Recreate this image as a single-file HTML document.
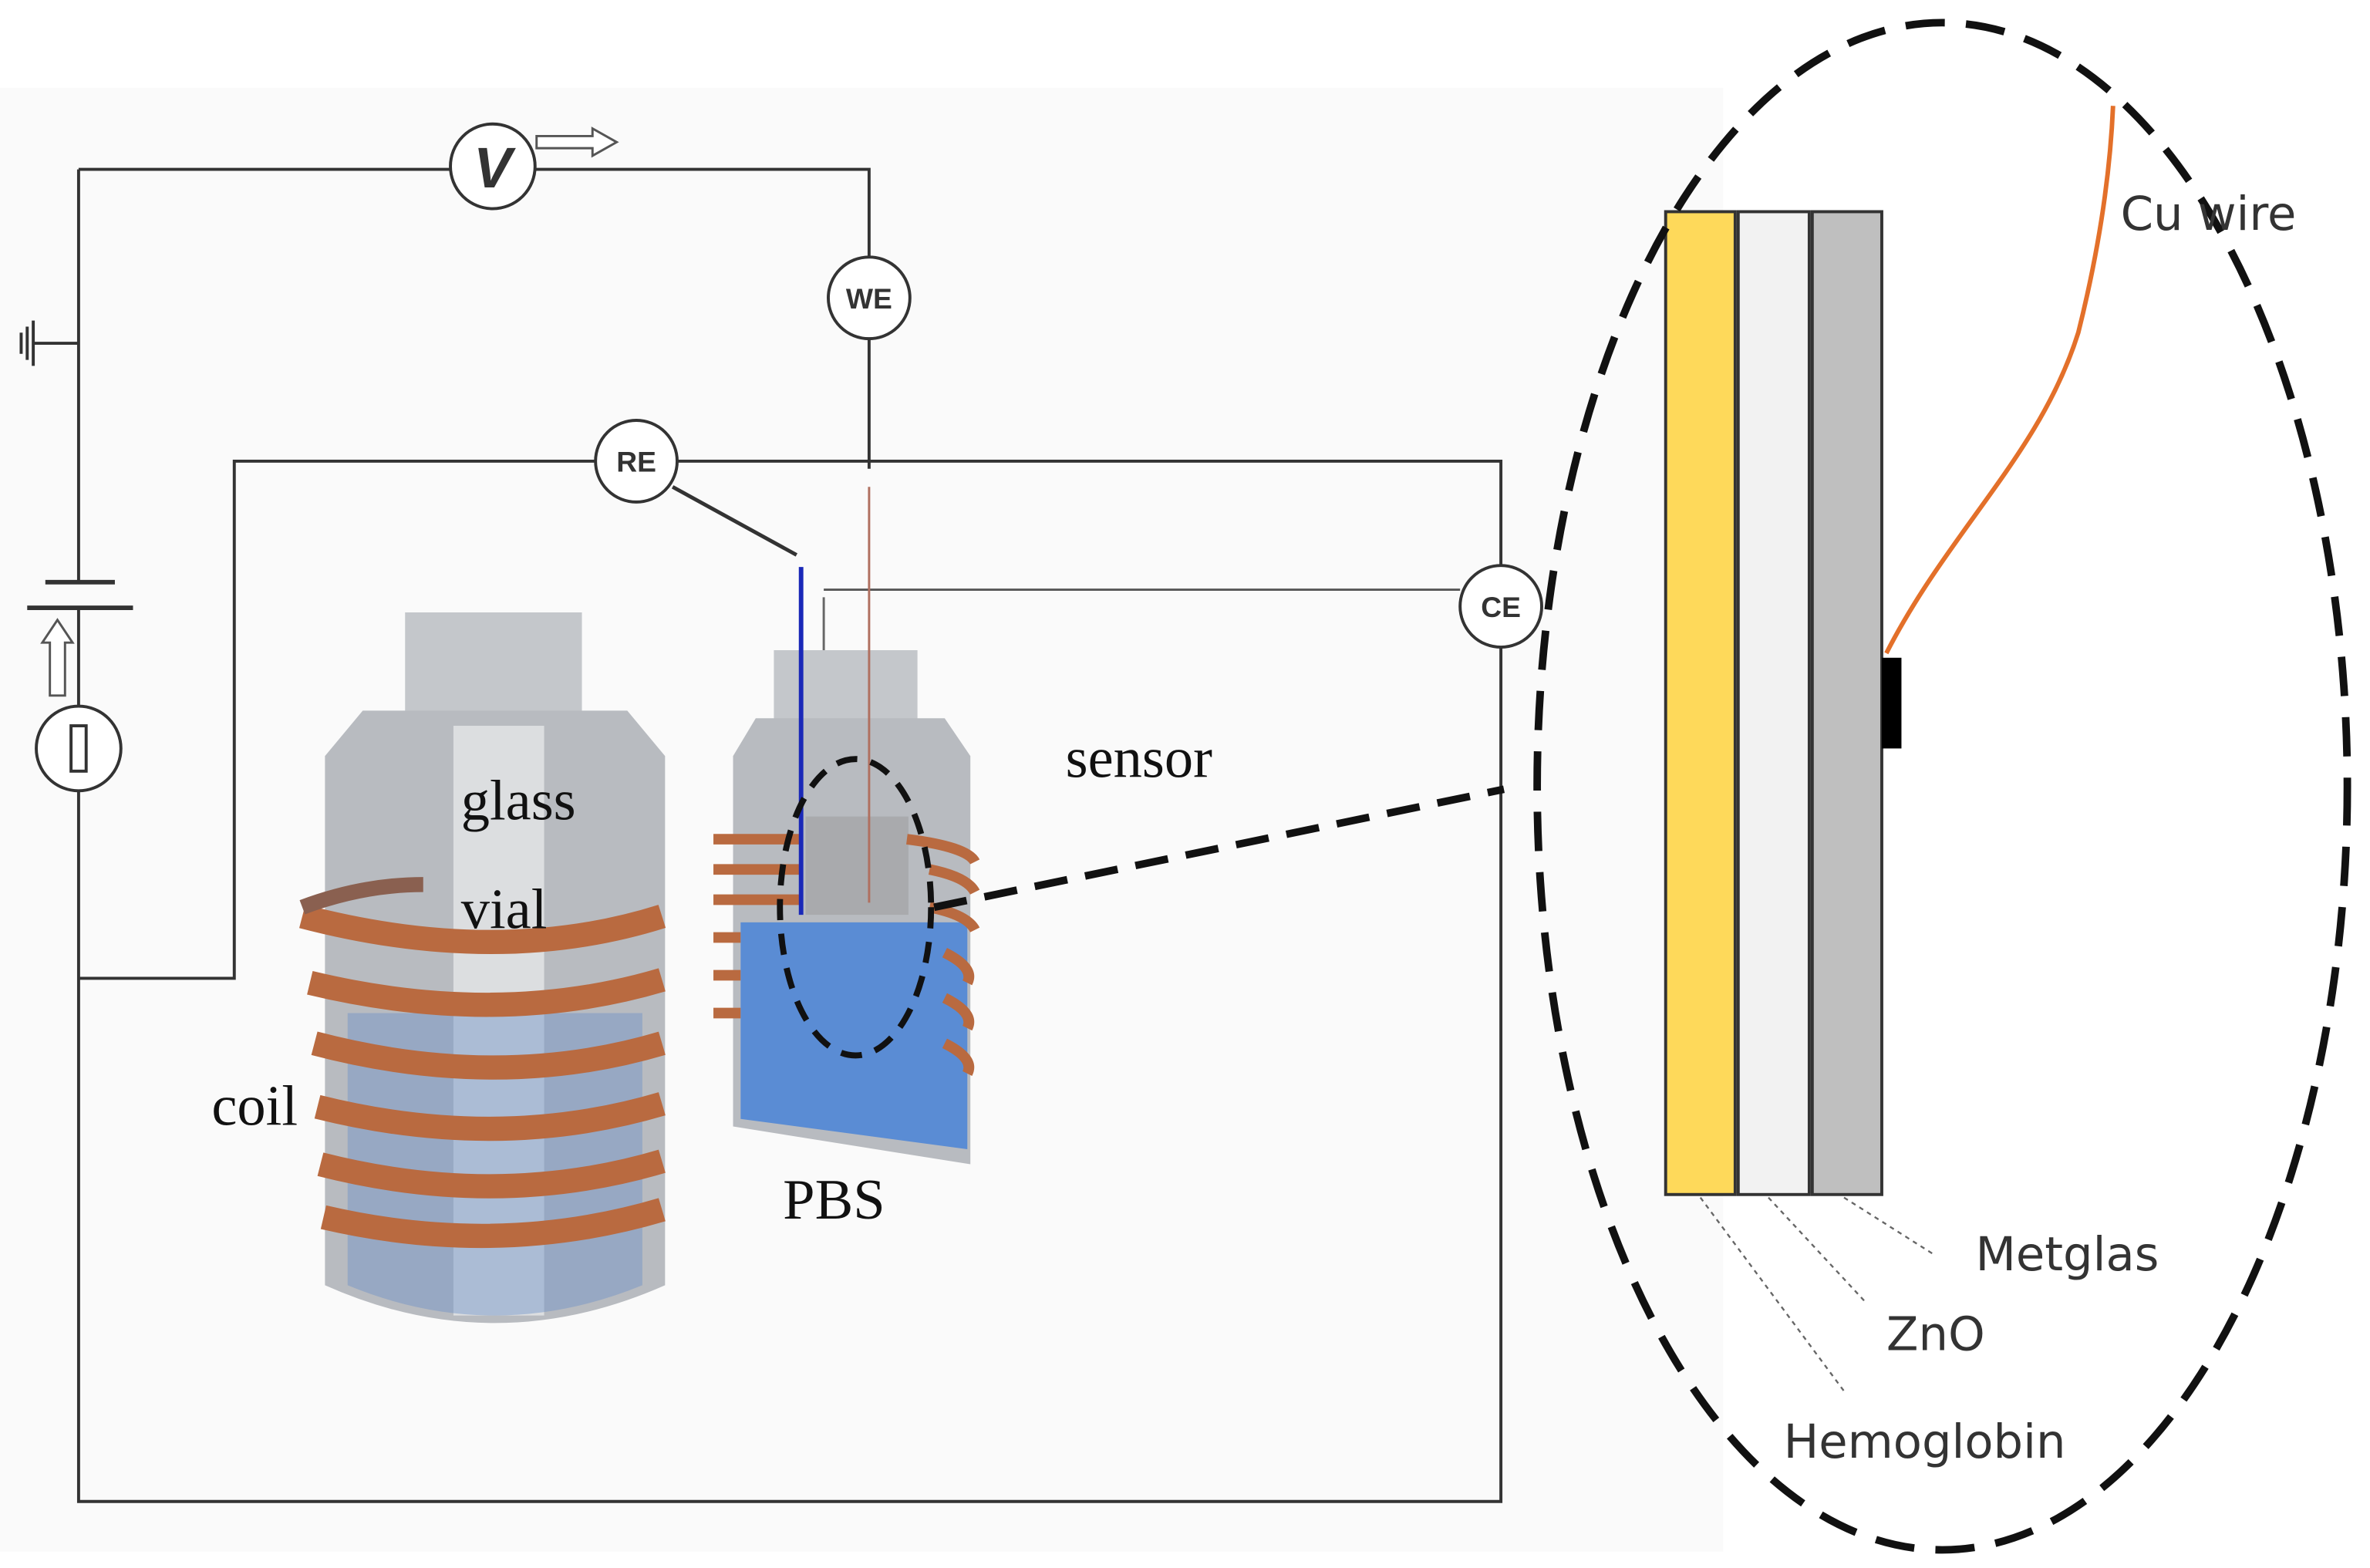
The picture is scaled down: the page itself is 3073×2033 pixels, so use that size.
<!DOCTYPE html>
<html><head><meta charset="utf-8"><style>html,body{margin:0;padding:0;background:#fff}svg{display:block}</style></head>
<body>
<svg width="3073" height="2033" viewBox="0 0 1568 1037" preserveAspectRatio="none" xmlns="http://www.w3.org/2000/svg">
<rect x="0" y="58" width="1140" height="968" fill="#fafafa"/>
<g stroke="#333" stroke-width="2" fill="none">
<polyline points="52,112 300,112"/><polyline points="354,112 575,112 575,170"/>
<line x1="575" y1="224" x2="575" y2="310"/>
<polyline points="52,112 52,385"/><polyline points="52,402 52,467"/><polyline points="52,523 52,993 993,993 993,428"/>
<line x1="22" y1="227" x2="52" y2="227"/>
<line x1="30" y1="385" x2="76" y2="385" stroke-width="3"/><line x1="18" y1="402" x2="88" y2="402" stroke-width="3"/>
<polyline points="52,647 155,647 155,305 394,305"/><polyline points="448,305 993,305 993,374"/>
<line x1="445" y1="322" x2="527" y2="367" stroke-width="2.5"/>
<line x1="545" y1="390" x2="966" y2="390" stroke="#555" stroke-width="1.5"/>
<line x1="545" y1="395" x2="545" y2="600" stroke="#666" stroke-width="1.5"/>
</g>
<g stroke="#333" stroke-width="2"><line x1="14" y1="220" x2="14" y2="234"/><line x1="18" y1="216" x2="18" y2="238"/><line x1="22" y1="212" x2="22" y2="242"/></g>
<path d="M33,460 V425 H28 L38,410 L48,425 H43 V460 Z" fill="#fff" stroke="#555" stroke-width="1.5"/>
<path d="M355,90 H392 V85 L408,94 L392,103 V98 H355 Z" fill="#fff" stroke="#555" stroke-width="1.5"/>
<g fill="#fff" stroke="#333" stroke-width="2">
<circle cx="326" cy="110" r="28"/><circle cx="575" cy="197" r="27"/><circle cx="421" cy="305" r="27"/><circle cx="993" cy="401" r="27"/><circle cx="52" cy="495" r="28"/>
</g>
<rect x="47" y="480" width="10" height="30" fill="none" stroke="#333" stroke-width="2"/>
<text x="326" y="124" font-family="Liberation Sans,sans-serif" font-size="38" font-style="italic" font-weight="bold" text-anchor="middle" fill="#333">V</text>
<g font-family="Liberation Sans,sans-serif" font-size="19" font-weight="bold" text-anchor="middle" fill="#333">
<text x="575" y="204">WE</text><text x="421" y="312">RE</text><text x="993" y="408">CE</text></g>
<!-- big vial -->
<rect x="268" y="405" width="117" height="70" fill="#c4c7cb"/>
<path d="M240,470 H415 L440,500 V850 Q327,900 215,850 V500 Z" fill="#b8bbc0"/>
<rect x="300" y="480" width="60" height="390" fill="#dcdee0"/>
<path d="M230,670 H425 V850 Q327,890 230,850 Z" fill="#6f93c8" opacity="0.45"/>
<g fill="none" stroke="#b96a40" stroke-width="16">
<path d="M200,606 Q330,640 438,606"/><path d="M205,650 Q330,680 438,648"/><path d="M208,690 Q330,722 438,690"/>
<path d="M210,732 Q330,762 438,730"/><path d="M212,770 Q330,800 438,768"/><path d="M214,805 Q330,832 438,800"/></g>
<path d="M200,600 Q240,585 280,585" fill="none" stroke="#8a6050" stroke-width="10"/>
<!-- small vial -->
<rect x="512" y="430" width="95" height="50" fill="#c4c7cb"/>
<path d="M500,475 H625 L642,500 V770 L485,745 V500 Z" fill="#b8bbc0"/>
<path d="M490,610 H640 V760 L490,740 Z" fill="#5a8cd4"/>
<rect x="533" y="540" width="68" height="65" fill="#999" opacity="0.5"/>
<g fill="none" stroke="#b96a40" stroke-width="7">
<path d="M472,555 L530,555 M600,555 Q640,560 645,570"/><path d="M472,575 H530 M615,575 Q640,580 645,590"/><path d="M472,595 H530 M615,600 Q640,605 645,615"/>
<path d="M472,620 H490"/><path d="M472,645 H490"/><path d="M472,670 H490"/>
<path d="M625,630 Q645,640 640,650"/><path d="M625,660 Q645,670 640,680"/><path d="M625,690 Q645,700 640,710"/></g>
<line x1="530" y1="375" x2="530" y2="605" stroke="#1a28b8" stroke-width="3"/>
<line x1="575" y1="322" x2="575" y2="597" stroke="#b07060" stroke-width="1.5"/>
<ellipse cx="566" cy="600" rx="50" ry="98" fill="none" stroke="#111" stroke-width="4" stroke-dasharray="14,9"/>
<line x1="618" y1="600" x2="995" y2="522" stroke="#111" stroke-width="5" stroke-dasharray="22,12"/>
<g font-family="Liberation Serif,serif" font-size="38" fill="#111">
<text x="305" y="542">glass</text><text x="305" y="614">vial</text><text x="140" y="744">coil</text><text x="518" y="806">PBS</text><text x="705" y="514">sensor</text></g>
<!-- zoom -->
<rect x="1102" y="140" width="46" height="650" fill="#fed95a" stroke="#333" stroke-width="2"/>
<rect x="1150" y="140" width="47" height="650" fill="#f2f2f2" stroke="#333" stroke-width="2"/>
<rect x="1199" y="140" width="46" height="650" fill="#bfbfbf" stroke="#333" stroke-width="2"/>
<rect x="1245" y="435" width="13" height="60" fill="#000"/>
<path d="M1248,432 C1290,350 1350,300 1375,220 Q1395,140 1398,70" fill="none" stroke="#e3702a" stroke-width="3"/>
<ellipse cx="1285" cy="520" rx="268" ry="505" fill="none" stroke="#111" stroke-width="5" stroke-dasharray="26,14"/>
<g stroke="#666" stroke-width="1.2" stroke-dasharray="3,3"><line x1="1125" y1="792" x2="1220" y2="920"/><line x1="1170" y1="792" x2="1235" y2="862"/><line x1="1220" y1="792" x2="1280" y2="830"/></g>
<g font-family="DejaVu Sans,sans-serif" font-size="31" fill="#333">
<text x="1403" y="152">Cu wire</text><text x="1307" y="840">Metglas</text><text x="1248" y="893">ZnO</text><text x="1180" y="964">Hemoglobin</text></g>
</svg>
</body></html>
